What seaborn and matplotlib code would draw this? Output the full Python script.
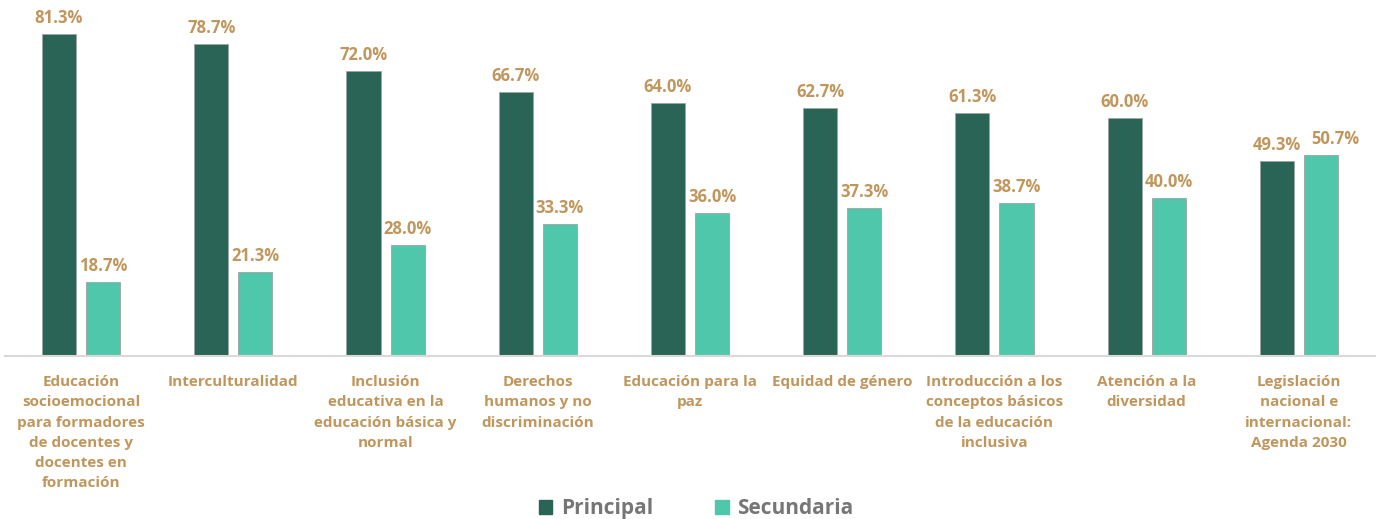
import pandas as pd
import numpy as np
import matplotlib.pyplot as plt
import seaborn as sns

sns.set_style("white")
plt.rcParams['font.family'] = ['Open Sans', 'DejaVu Sans']

categories = [
    "Educación\nsocioemocional\npara formadores\nde docentes y\ndocentes en\nformación",
    "Interculturalidad",
    "Inclusión\neducativa en la\neducación básica y\nnormal",
    "Derechos\nhumanos y no\ndiscriminación",
    "Educación para la\npaz",
    "Equidad de género",
    "Introducción a los\nconceptos básicos\nde la educación\ninclusiva",
    "Atención a la\ndiversidad",
    "Legislación\nnacional e\ninternacional:\nAgenda 2030",
]
principal = [81.3, 78.7, 72.0, 66.7, 64.0, 62.7, 61.3, 60.0, 49.3]
secundaria = [18.7, 21.3, 28.0, 33.3, 36.0, 37.3, 38.7, 40.0, 50.7]
series = ["Principal", "Secundaria"]

df = pd.DataFrame({
    "tema": categories * 2,
    "valor": principal + secundaria,
    "serie": [series[0]] * len(categories) + [series[1]] * len(categories),
})

gold = "#c0965c"
colors = {"Principal": "#2a6456", "Secundaria": "#4fc7ab"}

fig = plt.figure(figsize=(13.76, 5.19), dpi=100)
ax = fig.add_axes([5 / 1376, 163 / 519, 1370 / 1376, 356 / 519])

sns.barplot(data=df, x="tema", y="valor", hue="serie", palette=colors,
            saturation=1, width=0.58, gap=0.228, edgecolor="#9aa5a0",
            linewidth=0.6, legend=False, ax=ax)

labels = []
for cont in ax.containers:
    labels.append(ax.bar_label(cont, fmt="%.1f%%", padding=5, color=gold,
                               fontsize=12, fontweight="bold"))
# the last pair of labels sits close together, nudge the right one
last = labels[1][-1]
last.xyann = (10, last.xyann[1])

ax.set_ylim(0, 89.9)
ax.set_xlim(-0.5, len(categories) - 0.5)
ax.set_yticks([])
ax.set_xlabel("")
ax.set_ylabel("")
for s in ["top", "right", "left"]:
    ax.spines[s].set_visible(False)
ax.spines["bottom"].set_color("#d9d9d9")
ax.spines["bottom"].set_linewidth(1.5)
ax.tick_params(axis="x", length=0, pad=14)
for lbl in ax.get_xticklabels():
    lbl.set_color(gold)
    lbl.set_fontweight("bold")
    lbl.set_fontsize(11)
    lbl.set_linespacing(1.55)
    lbl.set_verticalalignment("top")

handles = [plt.Rectangle((0, 0), 1, 1, color=colors[s]) for s in series]
leg = fig.legend(handles, series, loc="lower center", bbox_to_anchor=(0.506, -0.037),
                 ncol=2, frameon=False, handlelength=0.65, handleheight=0.65,
                 handletextpad=0.4, columnspacing=3.0,
                 prop={"size": 15, "weight": "bold"})
for t in leg.get_texts():
    t.set_color("#767676")

plt.savefig("out.png", dpi=100)
plt.close('all')
